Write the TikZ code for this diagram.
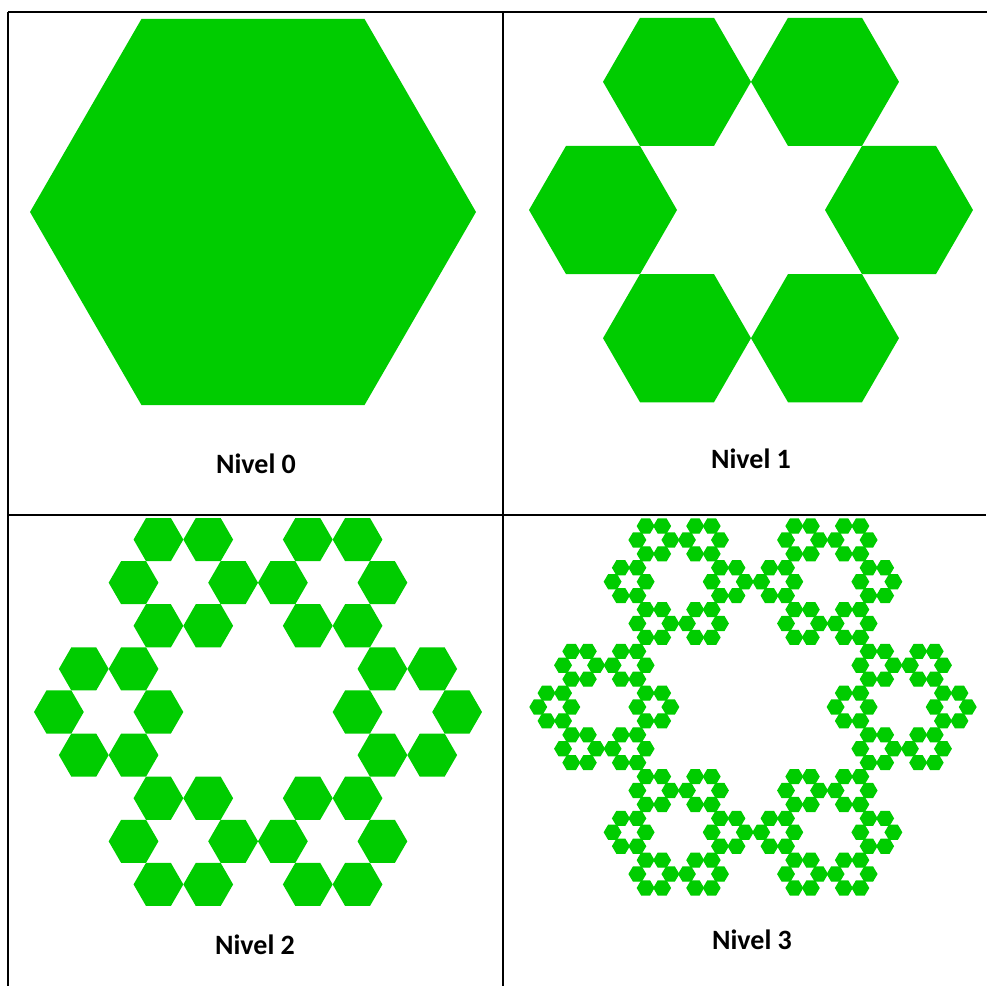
\documentclass[tikz,border=0pt]{standalone}
\usepackage{fontspec}
\setmainfont{Carlito}
\definecolor{flakegreen}{RGB}{0,204,0}

% one level of the flake: six copies at a third of the size
\newcommand\hexflake[1]{%
  \ifnum#1=0
    \fill[hexfill] (0:1) -- (60:1) -- (120:1) -- (180:1) -- (240:1) -- (300:1) -- cycle;
  \else
    \foreach \ang in {0,60,...,300}{%
      \begin{scope}[shift={(\ang:0.666667)},scale=0.333333]
        \hexflake{\numexpr#1-1\relax}
      \end{scope}}%
  \fi}

\begin{document}
\begin{tikzpicture}[x=0.5pt,y=-0.5pt,
  hexfill/.style={fill=flakegreen},
  rule/.style={black,line width=#1},
  levelname/.style={font=\fontsize{14}{16}\selectfont\bfseries}]
  \useasboundingbox (0,0) rectangle (987,986);

  % table rules
  \draw[rule=1pt] (8,11.5) -- (8,986);
  \draw[rule=1pt] (502.5,11.5) -- (502.5,986);
  \draw[rule=0.6pt] (8,12) -- (987,12);
  \draw[rule=0.7pt] (8,515) -- (986,515);
  \draw[rule=1pt] (8,12) -- (25,12);
  \draw[rule=1pt] (486,515) -- (517,515);

  % the four levels
  \begin{scope}[shift={(253,212)},scale=223]
    \hexflake{0}
  \end{scope}
  \begin{scope}[shift={(751,210)},scale=222]
    \hexflake{1}
  \end{scope}
  \begin{scope}[shift={(258,712)},scale=224]
    \hexflake{2}
  \end{scope}
  \begin{scope}[shift={(753,707)},xscale=223,yscale=217,
      hexfill/.style={fill=flakegreen,draw=flakegreen,line width=0.6pt}]
    \hexflake{3}
  \end{scope}

  \node[levelname] (lvl0) at (256,464) {Nivel 0};
  \node[levelname] (lvl1) at (751,459) {Nivel 1};
  \node[levelname] (lvl2) at (255,945) {Nivel 2};
  \node[levelname] (lvl3) at (752,940) {Nivel 3};
\end{tikzpicture}
\end{document}
